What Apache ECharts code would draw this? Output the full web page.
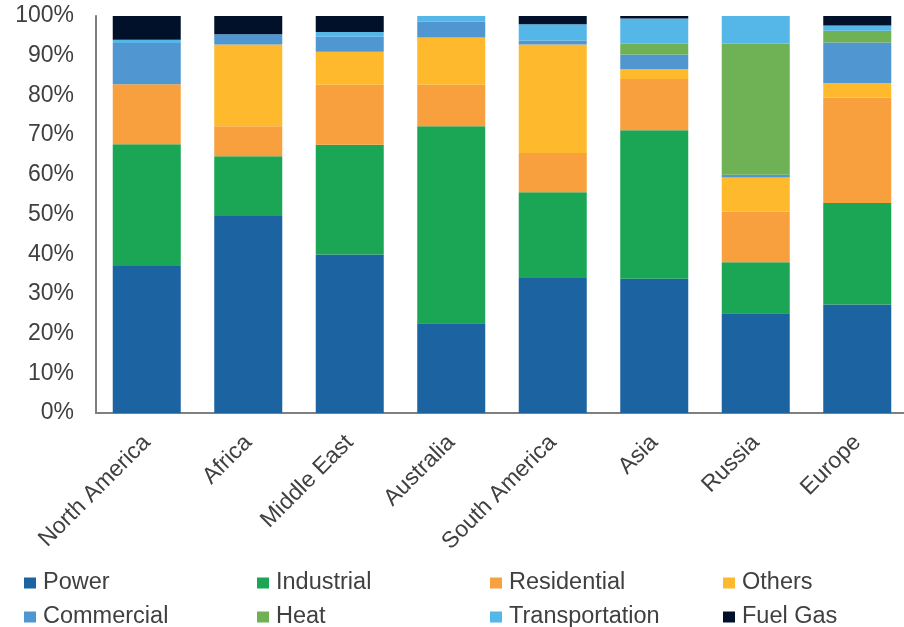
<!DOCTYPE html>
<html>
<head>
<meta charset="utf-8">
<script src="https://cdn.jsdelivr.net/npm/echarts@6/dist/echarts.min.js"></script>
<style>html,body{margin:0;padding:0;background:#fff;}#c{width:904px;height:627px;}</style>
</head>
<body>
<div id="c"></div>
<script>
const categories = ['North America','Africa','Middle East','Australia','South America','Asia','Russia','Europe'];
const seriesNames = ['Power','Industrial','Residential','Others','Commercial','Heat','Transportation','Fuel Gas'];
const power          = [37.0, 49.6, 39.9, 22.6, 34.0, 33.8, 25.1, 27.3];
const industrial     = [30.7, 15.1, 27.7, 49.6, 21.6, 37.4, 12.9, 25.6];
const residential    = [15.1,  7.5, 15.1, 10.5,  9.9, 12.9, 12.7, 26.6];
const others         = [ 0.0, 20.6,  8.3, 11.9, 27.3,  2.5,  8.6,  3.6];
const commercial     = [10.4,  2.6,  3.8,  4.0,  1.0,  3.7,  0.7, 10.2];
const heat           = [ 0.0,  0.0,  0.0,  0.0,  0.0,  2.8, 33.1,  3.0];
const transportation = [ 0.8,  0.0,  1.2,  1.4,  4.1,  6.3,  6.9,  1.3];
const fuelGas        = [ 6.0,  4.6,  4.0,  0.0,  2.1,  0.6,  0.0,  2.4];
const yTicks = [0,10,20,30,40,50,60,70,80,90,100];

const values = [power, industrial, residential, others, commercial, heat, transportation, fuelGas];
const colors = ['#1B63A1','#1AA655','#F8A03E','#FEBA2C','#5096D1','#6FB155','#55B6E8','#01112A'];
const font = 'Liberation Sans, Arial, sans-serif';
const textColor = '#404040';

const legendCols = [24, 257, 490, 723];
const legendRows = [571, 605];
const legends = seriesNames.map((n, i) => ({
  data: [n],
  left: legendCols[i % 4],
  top: legendRows[Math.floor(i / 4)],
  padding: 0,
  itemWidth: 12,
  itemHeight: 11,
  itemGap: 0,
  icon: 'rect',
  selectedMode: false,
  textStyle: { fontFamily: font, fontSize: 23.5, color: textColor, padding: [0, 0, 0, 2] }
}));

const chart = echarts.init(document.getElementById('c'));
chart.setOption({
  animation: false,
  color: colors,
  legend: legends,
  grid: { left: 96, width: 812, top: 16, bottom: 214, containLabel: false, outerBoundsMode: 'none' },
  xAxis: {
    type: 'category',
    data: categories,
    axisLine: { show: true, lineStyle: { color: '#7f7f7f', width: 2 } },
    axisTick: { show: false },
    axisLabel: { rotate: 45, margin: 26, fontFamily: font, fontSize: 23, color: textColor, interval: 0 }
  },
  yAxis: {
    type: 'value',
    min: 0, max: 100, interval: 10,
    axisLine: { show: true, lineStyle: { color: '#7f7f7f', width: 2 } },
    axisTick: { show: false },
    splitLine: { show: false },
    axisLabel: {
      margin: 22, fontFamily: font, fontSize: 23, color: textColor,
      formatter: v => (yTicks.indexOf(v) >= 0 ? v + '%' : '')
    }
  },
  series: seriesNames.map((n, i) => ({
    name: n,
    type: 'bar',
    stack: 'total',
    barWidth: '67%',
    data: values[i],
    itemStyle: { color: colors[i] }
  }))
});
</script>
</body>
</html>
